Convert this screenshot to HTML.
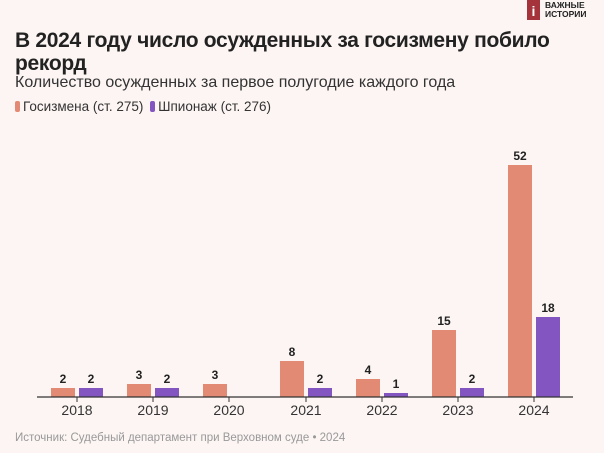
<!DOCTYPE html>
<html><head><meta charset="utf-8"><style>
body{margin:0;width:604px;height:453px;background:#fcf5f3;font-family:"Liberation Sans",sans-serif;overflow:hidden;position:relative;color:#222}
.t{position:absolute;left:15px;top:29px;font-size:21px;font-weight:bold;line-height:23px;letter-spacing:-0.3px;width:570px}
.s{position:absolute;left:15px;top:74px;font-size:16px;color:#333}
.l{position:absolute;left:15px;top:99px;font-size:13.5px;color:#333}
.sw{display:inline-block;width:5px;height:11px;border-radius:2px;vertical-align:-1px;margin-right:3px}
.f{position:absolute;left:15px;top:432px;font-size:11.5px;color:#999}
</style></head><body>
<div style="position:absolute;left:527px;top:0;width:13px;height:20px;background:#a4333c;color:#fff;font-weight:bold;font-size:14px;text-align:center;line-height:22px">i</div>
<div style="position:absolute;left:545px;top:1px;font-size:8.5px;font-weight:bold;line-height:9px;color:#222">ВАЖНЫЕ<br>ИСТОРИИ</div>
<div class="t">В 2024 году число осужденных за госизмену побило рекорд</div>
<div class="s">Количество осужденных за первое полугодие каждого года</div>
<div class="l"><span class="sw" style="background:#e38a74"></span>Госизмена (ст. 275) <span class="sw" style="background:#8355c1;margin-left:3px"></span>Шпионаж (ст. 276)</div>
<svg width="604" height="453" style="position:absolute;left:0;top:0" font-family="Liberation Sans, sans-serif">
<g fill="#e38a74">
<rect x="51" y="388" width="24" height="9"/><rect x="127" y="384" width="24" height="13"/><rect x="203" y="384" width="24" height="13"/>
<rect x="280" y="361" width="24" height="36"/><rect x="356" y="379" width="24" height="18"/><rect x="432" y="330" width="24" height="67"/><rect x="508" y="165" width="24" height="232"/></g>
<g fill="#8355c1">
<rect x="79" y="388" width="24" height="9"/><rect x="155" y="388" width="24" height="9"/><rect x="308" y="388" width="24" height="9"/>
<rect x="384" y="393" width="24" height="4"/><rect x="460" y="388" width="24" height="9"/><rect x="536" y="317" width="24" height="80"/></g>
<line x1="37" y1="397" x2="573" y2="397" stroke="#333" stroke-width="1.2"/>
<g stroke="#333"><line x1="77" y1="397" x2="77" y2="402"/><line x1="153" y1="397" x2="153" y2="402"/><line x1="229" y1="397" x2="229" y2="402"/><line x1="306" y1="397" x2="306" y2="402"/><line x1="382" y1="397" x2="382" y2="402"/><line x1="458" y1="397" x2="458" y2="402"/><line x1="534" y1="397" x2="534" y2="402"/></g>
<g font-size="14" fill="#333" text-anchor="middle">
<text x="77" y="415">2018</text><text x="153" y="415">2019</text><text x="229" y="415">2020</text><text x="306" y="415">2021</text><text x="382" y="415">2022</text><text x="458" y="415">2023</text><text x="534" y="415">2024</text></g>
<g font-size="12" font-weight="bold" fill="#222" text-anchor="middle">
<text x="63" y="383">2</text><text x="91" y="383">2</text><text x="139" y="379">3</text><text x="167" y="383">2</text><text x="215" y="379">3</text>
<text x="292" y="356">8</text><text x="320" y="383">2</text><text x="368" y="374">4</text><text x="396" y="388">1</text>
<text x="444" y="325">15</text><text x="472" y="383">2</text><text x="520" y="160">52</text><text x="548" y="312">18</text></g>
</svg>
<div class="f">Источник: Судебный департамент при Верховном суде • 2024</div>
</body></html>
